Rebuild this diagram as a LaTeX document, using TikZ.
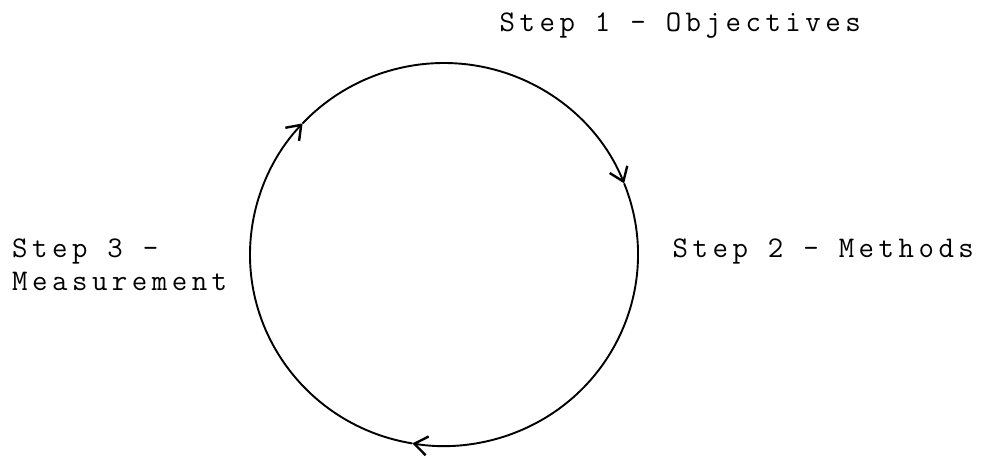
\documentclass[tikz,border=0pt]{standalone}
\usepackage{fontspec}
\setmonofont{Latin Modern Mono}[LetterSpace=15]
\usetikzlibrary{arrows.meta}
\begin{document}
\begin{tikzpicture}[x=1pt,y=1pt,
  lbl/.style={font=\ttfamily\fontsize{30}{33}\selectfont, anchor=base west, inner sep=0pt},
  cyc/.style={line width=1.9pt, -{Straight Barb[length=13pt,width=19pt,line width=2.4pt]}}]
\useasboundingbox[fill=white] (0,0) rectangle (988,458);
\coordinate (c) at (444,203.5);
\def\rx{194}\def\ry{191.5}
% cycle arcs, clockwise
\draw[cyc] (c) ++(136.8:\rx pt and \ry pt) arc[start angle=136.8, end angle=21.8, x radius=\rx pt, y radius=\ry pt];
\draw[cyc] (c) ++(21.8:\rx pt and \ry pt) arc[start angle=21.8, end angle=-99.4, x radius=\rx pt, y radius=\ry pt];
\draw[cyc] (c) ++(-99.4:\rx pt and \ry pt) arc[start angle=-99.4, end angle=-223.2, x radius=\rx pt, y radius=\ry pt];
% labels
\node[lbl] (s1) at (499.5,426) {Step 1 - Objectives};
\node[lbl] (s2) at (672.5,200) {Step 2 - Methods};
\node[lbl] (s3a) at (12,200) {Step 3 -};
\node[lbl] (s3b) at (12,167) {Measurement};
\end{tikzpicture}
\end{document}
